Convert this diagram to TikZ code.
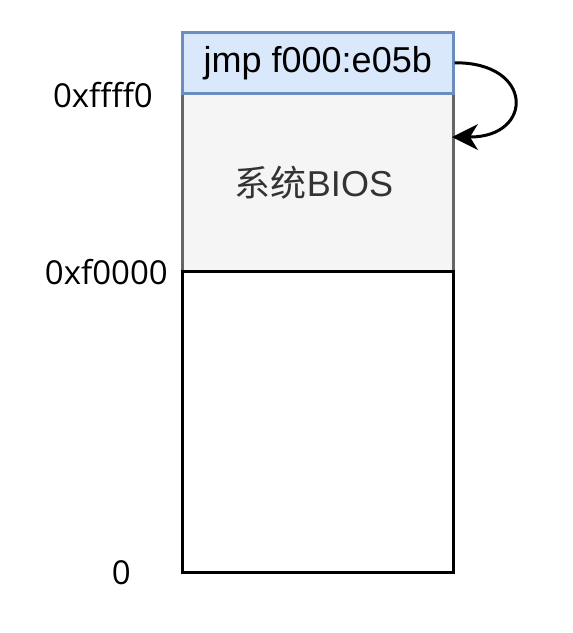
\documentclass[tikz,border=0pt]{standalone}
\usepackage{fontspec}
\setmainfont{Liberation Sans}
\newfontfamily\labfont{Open Sans}
\newfontfamily\cjkfont{Noto Sans CJK SC}
\usetikzlibrary{arrows.meta}
\definecolor{bluefill}{HTML}{DAE8FC}
\definecolor{blueline}{HTML}{6C8EBF}
\definecolor{grayfill}{HTML}{F5F5F5}
\definecolor{grayline}{HTML}{666666}
\definecolor{graytext}{HTML}{333333}
\tikzset{
  membox/.style={draw, line width=2.6pt, minimum width=271pt, inner sep=0pt, anchor=north west},
  addr/.style={font=\labfont\fontsize{33}{36}\selectfont, anchor=east, inner sep=0pt},
}
\begin{document}
\begin{tikzpicture}[x=1pt,y=-1pt]
\useasboundingbox (0,0) rectangle (573,633);
\node[membox, draw=grayline, fill=grayfill, minimum height=178pt] (bios) at (181,92) {};
\node[membox, draw=black, fill=white, minimum height=301pt] (low) at (181,270) {};
\node[text=graytext, font=\fontsize{36}{40}\selectfont, inner sep=0pt] (biostext) at (314,183) {{\cjkfont 系统}BIOS};
\node[membox, draw=blueline, fill=bluefill, minimum height=61pt,
      font=\fontsize{36}{40}\selectfont] (jmp) at (181,31) {jmp f000:e05b};
\node[addr] (l1) at (153,95) {0xffff0};
\node[addr] (l2) at (168,272) {0xf0000};
\node[addr] (l3) at (131,573) {0};
\coordinate (target) at (452,137);
\draw[line width=3pt, -{Stealth[length=26pt,width=26pt,inset=8pt,line width=0pt]}]
  (jmp.east) .. controls (534,62) and (534,137) .. (target);
\end{tikzpicture}
\end{document}
